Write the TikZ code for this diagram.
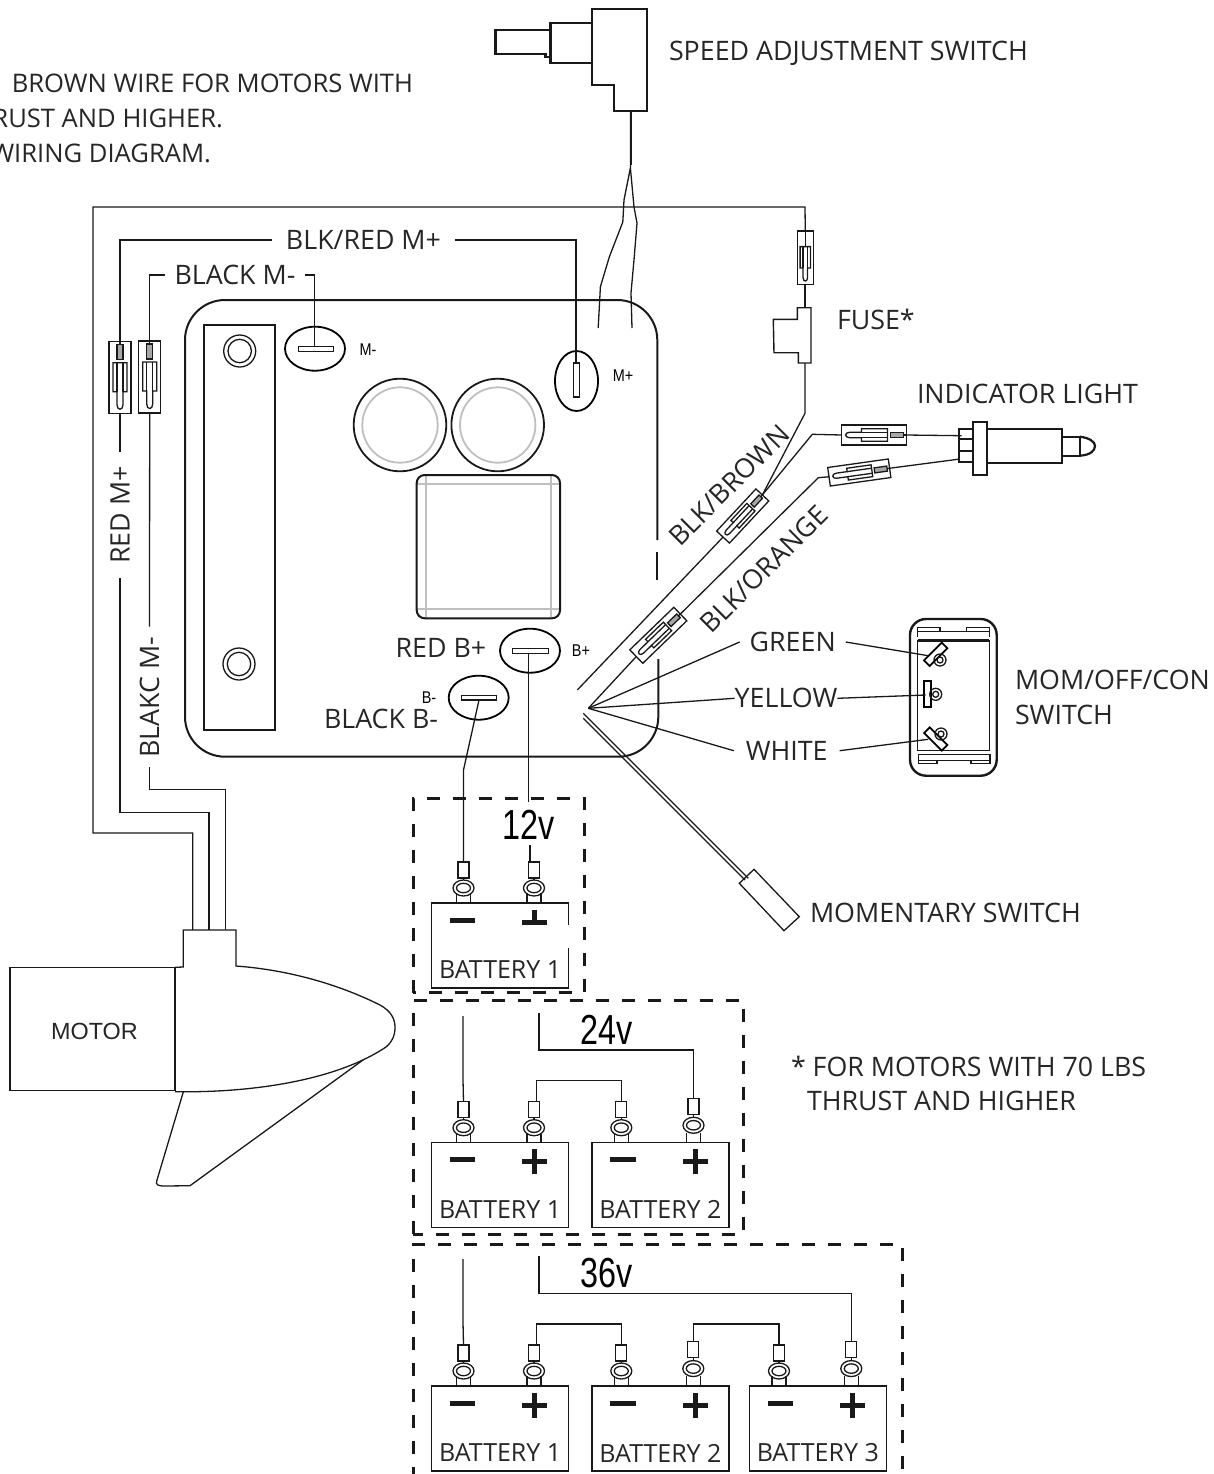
\documentclass[tikz,border=0pt]{standalone}
\usepackage{graphicx}
\usepackage{fontspec}
\setmainfont{Open Sans}
\newfontfamily\narrowfont{Liberation Sans}
\usepackage{tikz}
\newcommand{\voltlabel}[1]{\scalebox{.77}[1]{\fontsize{21}{21}\selectfont\narrowfont #1}}
\newcommand{\smalllabel}[1]{\scalebox{.85}[1]{\fontsize{8.5}{9}\selectfont\narrowfont #1}}
\newcommand{\bladebody}{
\draw[wire,fill=white] (-11,-36) rectangle (11,36);
\draw[wire] (-7,-15) -- (7,-15) -- (7,14) -- (3,14) -- (3,27) .. controls (3,33) and (-3,33) .. (-3,27) -- (-3,14) -- (-7,14) -- cycle;
\draw[wire] (-3,-15) -- (-3,14) (3,-15) -- (3,14);
\coordinate (-a) at (0,-36);
\coordinate (-b) at (0,36);
}
\tikzset{
wire/.style={line width=.65pt,black!90},
heavy/.style={line width=1.1pt,black!90},
pale/.style={line width=.9pt,black!25},
lbl/.style={font=\fontsize{13.4}{15}\selectfont,text=black!85,inner sep=0pt,outer sep=5pt},
txt/.style={lbl,outer sep=0pt},
notetxt/.style={txt,anchor=east,font=\fontsize{12.8}{15}\selectfont},
battlbl/.style={font=\fontsize{12.5}{14}\selectfont,text=black!85,inner sep=0pt},
boxdash/.style={line width=1.5pt,black!90,dash pattern=on 6.5pt off 6.5pt},
pics/blade/.style={code={\bladebody
\draw[wire] (0,-36) -- (0,-18);
\draw[wire,fill=black!35] (-3,-33) rectangle (3,-18);
}},
pics/bladeplain/.style={code={\bladebody
\draw[wire] (0,-36) -- (0,-15);
}},
pics/terminal/.style={code={
\draw[wire] (-5.5,-41-#1) rectangle (5.5,-25-#1);
\draw[wire] (0,-25-#1) -- (0,-22);
\draw[wire,fill=white] (0,-15-.7*#1) ellipse (10.5 and 8);
\draw[wire] (0,-15-.7*#1) ellipse (7 and 4.7);
\draw[wire] (-7,0) -- (-7,-10) (7,-10) -- (7,0);
\coordinate (-top) at (0,-41-#1);
}},
pics/battery/.style={code={
\draw[wire] (0,0) rectangle (137,85);
\fill[black!90] (18.3,14.5) rectangle ++(25.3,5);
\fill[black!90] (90.5,16.5) rectangle ++(25,5);
\fill[black!90] (100.5,6.5) rectangle ++(5,25);
\node[battlbl] (-name) at (68.5,67) {#1};
}},
}

\begin{document}
\begin{tikzpicture}[x=0.5pt,y=-0.5pt]
\useasboundingbox (0,0) rectangle (1214,1474);
%note top left, runs off the page
\node[notetxt] (notea) at (413,83) {BROWN WIRE FOR MOTORS WITH};
\node[notetxt] (noteb) at (223,118) {RUST AND HIGHER.};
\node[notetxt] (notec) at (211,153) {WIRING DIAGRAM.};

%speed switch
\draw[heavy] (592,9) -- (647.3,9) -- (647.3,111) -- (613.8,111) -- (613.8,85) -- (592,85) -- cycle;
\draw[heavy] (592,23.3) -- (550.4,23.3) -- (550.4,63.3) -- (592,63.3);
\draw[heavy] (550.4,30) -- (495.5,30) -- (495.5,53.7) -- (545.5,53.7) -- (545.5,57) -- (550.4,57);
\draw[wire] (630.4,111) -- (630.4,168) -- (624,200) -- (622.8,222) -- (609.4,256.7) -- (600.4,286.7) -- (598.2,328);
\draw[wire] (630.4,168) -- (634,207) -- (637,223) -- (634,260) -- (631,293) -- (632,328);
\draw[wire] (631,111) -- (631,165);
\node[txt,anchor=west] (speedlbl) at (669,53) {SPEED ADJUSTMENT SWITCH};

%control board
\draw[line width=1pt,black!90,rounded corners=20pt] (657.3,540) -- (657.3,300) -- (185,300) -- (185,756.7) -- (658.3,756.7) -- (658.3,659);
\draw[line width=1pt,black!90] (657.3,552) -- (657.3,580);
\draw[line width=1pt,black!90] (204,325) rectangle (275,730);
\draw[wire] (239.7,351) circle (16);
\draw[wire] (239.7,351) circle (11.7);
\draw[wire] (239,664) circle (16);
\draw[wire] (239,664) circle (11.7);
\draw[pale] (400,425) circle (37.7);
\draw[pale] (497.7,425) circle (37.7);
\draw[line width=.9pt,black!90] (400,425) circle (46.3);
\draw[line width=.9pt,black!90] (497.7,425) circle (46.3);
\draw[pale] (425.7,475) -- (425.7,618.3) (551.3,475) -- (551.3,618.3) (416.7,483.7) -- (560,483.7) (416.7,609.3) -- (560,609.3);
\draw[line width=1pt,black!90,rounded corners=4pt] (416.7,475) rectangle (560,618.3);

%terminals on the board
\draw[line width=.9pt] (315,348.7) ellipse (30 and 22);
\draw[wire] (298.3,346.7) rectangle (333.3,351.7);
\draw[line width=.9pt] (576.5,381) ellipse (21.5 and 30);
\draw[wire] (573.5,363) rectangle (579.5,397);
\draw[line width=.9pt] (530,650.7) ellipse (30 and 22);
\draw[wire] (512.7,648.3) rectangle (548.3,653.3);
\draw[line width=.9pt] (478.7,697.7) ellipse (30 and 22);
\draw[wire] (461.7,695.7) rectangle (496.7,700);
\coordinate (mminus) at (314.7,347);
\coordinate (mplus) at (576,363);
\coordinate (bplus) at (528.7,653.3);
\coordinate (bminus) at (479,700);
\node[inner sep=0pt] (mminuslbl) at (368,349.5) {\smalllabel{M-}};
\node[inner sep=0pt] (mpluslbl) at (623,376) {\smalllabel{M+}};
\node[inner sep=0pt] (bpluslbl) at (581,651) {\smalllabel{B+}};
\node[inner sep=0pt] (bminuslbl) at (429,698) {\smalllabel{B-}};
\node[txt] (redb) at (441,648) {RED B+};
\node[txt] (blackb) at (381,719) {BLACK B-};

%motor
\draw[wire] (10,967.3) rectangle (175,1090.7);
\node[inner sep=0pt,font=\fontsize{11.7}{13}\selectfont\narrowfont,text=black!85] (motorlbl) at (94.5,1031) {MOTOR};
\draw[wire] (175,967.3) -- (183.3,967) -- (183.3,930) -- (236,930) -- (236,966) .. controls (290,970) and (340,985) .. (380,1005) .. controls (391,1011) and (395,1019) .. (395,1027) .. controls (395,1036) and (392,1042) .. (386,1047) .. controls (340,1078) and (260,1093) .. (175,1091.7);
\draw[wire] (183.3,1092) -- (157,1180) .. controls (155,1185) and (158,1186) .. (165,1186) -- (190,1185.7) -- (363,1060);
\coordinate (stema) at (192.7,930);
\coordinate (stemb) at (209,930);
\coordinate (stemc) at (225.3,930);

%plug connectors
\pic (conr) at (120,377.7) {blade};
\pic (conb) at (149.7,377) {blade};
\pic[scale=.74] (conf) at (805.3,257.7) {bladeplain};
\pic[rotate=-43,scale=.8] (conbrown) at (742.7,516) {blade};
\pic[rotate=-46,scale=.85] (conorange) at (658.3,635.3) {blade};
\pic[rotate=-90,scale=.9] (conlighta) at (874,435) {blade};
\pic[rotate=-82,scale=.85] (conlightb) at (859.3,472.5) {blade};

%motor leads
\node[lbl,outer sep=7pt] (blkred) at (363.5,240) {BLK/RED M+};
\node[lbl] (blackm) at (235,275) {BLACK M-};
\node[lbl,rotate=90,outer sep=7pt] (redm) at (120,515) {RED M+};
\node[lbl,rotate=90] (blakc) at (149.5,697) {BLAKC M-};
\draw[wire] (stema) |- (93,833) |- (805,207) -- (conf-a);
\draw[wire] (stemb) |- (120,812.5) -- (redm.west);
\draw[wire] (redm.east) -- (conr-b);
\draw[wire] (conr-a) |- (blkred.west);
\draw[wire] (blkred.east) -| (mplus);
\draw[wire] (stemc) |- (149.5,789.3) -- (blakc.west);
\draw[wire] (blakc.east) -- (conb-b);
\draw[wire] (conb-a) |- (blackm.west);
\draw[wire] (blackm.east) -| (mminus);

%fuse
\draw[wire] (805,284) -- (805,307.7);
\draw[line width=.7pt,black!90] (798.3,363) -- (811,363) -- (811,307.7) -- (797.3,307.7) -- (797.3,319.3) -- (773.3,319.3) -- (774,352.7) -- (798.3,352.7) -- cycle;
\node[txt,anchor=west] (fuselbl) at (837,319) {FUSE*};
\draw[wire] (805,363) -- (805,413.3) -- (conbrown-a);

%indicator light
\draw[heavy] (959.3,429) rectangle (973.3,462.3);
\draw[heavy] (959.3,439.3) -- (973.3,439.3) (959.3,450.7) -- (973.3,450.7);
\draw[heavy] (973.3,422.3) rectangle (987.3,474.7);
\draw[heavy] (987.3,429) rectangle (1061.7,462.7);
\draw[heavy] (1061.7,436.7) rectangle (1080,455.7);
\draw[heavy] (1080,436.7) .. controls (1090,438) and (1095,442) .. (1095,446) .. controls (1095,451) and (1090,455) .. (1080,455.7);
\node[txt,anchor=west] (lightlbl) at (917,394) {INDICATOR LIGHT};
\coordinate (lampa) at (961.7,435.7);
\coordinate (lampb) at (960,459);
\draw[wire] (conlighta-a) -- (lampa);
\draw[wire] (conlightb-a) -- (lampb);

%wires to the light
\coordinate (fan) at (588.3,708.3);
\draw[wire] (conbrown-a) -- (812.3,434.3) -- (conlighta-b);
\draw[wire] (577.3,690) -- (conbrown-b);
\draw[wire] (fan) -- (conorange-b);
\draw[wire] (conorange-a) -- (818.3,477.7) -- (conlightb-b);
\node[txt,rotate=45] (brownlbl) at (729,485) {BLK/BROWN};
\node[txt,rotate=45] (orangelbl) at (764,569) {BLK/ORANGE};

%rocker switch
\draw[line width=1.2pt,black!90,rounded corners=8pt] (910,619) rectangle (996.7,775.7);
\draw[wire] (917.7,641) rectangle (989.3,750.7);
\draw[wire] (917.7,637) -- (917.7,627.3) -- (940,627.3) -- (940,631.7) -- (966.7,631.7) -- (966.7,627.3) -- (989.3,627.3) -- (989.3,637);
\draw[wire] (917.7,631.7) -- (989.3,631.7) (917.7,640) -- (989.3,640);
\draw[wire] (918.5,754.3) -- (990,754.3) -- (990,763.3) -- (971,763.3) -- (971,760.7) -- (937,760.7) -- (937,763.3) -- (918.5,763.3) -- cycle;
\draw[wire] (918.5,760.7) -- (990,760.7);
\draw[line width=.9pt,rotate around={45:(935.7,654.3)}] (923.2,650.3) rectangle (948.2,658.3);
\draw[wire] (940,660) circle (6) (940,660) circle (3);
\draw[line width=.9pt] (924,680.7) rectangle (930.7,706.7);
\draw[wire] (935.7,694.3) circle (6) (935.7,694.3) circle (3);
\draw[line width=.9pt,rotate around={-45:(935.7,739)}] (923.2,735) rectangle (948.2,743);
\draw[wire] (941,734) circle (6) (941,734) circle (3);
\node[txt,anchor=west] (momlbl) at (1015,680) {MOM/OFF/CON};
\node[txt,anchor=west] (switchlbl) at (1015,715) {SWITCH};
\coordinate (pingreen) at (928.3,655.7);
\coordinate (pinyellow) at (925.7,695);
\coordinate (pinwhite) at (928.3,739.3);

%colour wires
\node[lbl] (green) at (792.7,642) {GREEN};
\node[txt] (yellow) at (786,698.3) {YELLOW};
\node[lbl,outer sep=6pt] (white) at (786.7,750.7) {WHITE};
\draw[wire] (fan) -- (green.west);
\draw[wire] (fan) -- (yellow.west);
\draw[wire] (fan) -- (white.west);
\draw[wire] (green.east) -- (pingreen);
\draw[wire] (yellow.east) -- (pinyellow);
\draw[wire] (white.east) -- (pinwhite);

%momentary switch
\draw[wire] (583.3,713.3) -- (748.3,878.3);
\draw[wire] (583.3,718.3) -- (745,880);
\draw[wire] (754,869.3) -- (799.3,916.7) -- (784,930.7) -- (739.3,883.3) -- cycle;
\node[txt,anchor=west] (momentlbl) at (810,913) {MOMENTARY SWITCH};

%12v
\draw[boxdash] (413,992.7) -- (413,798.3) -- (584,798.3) -- (584,992.7) -- cycle;
\pic (bata) at (431.7,903) {battery={BATTERY 1}};
\fill[white] (500,924.5) rectangle (572,948);
\pic (taa) at (463.5,903) {terminal=0};
\pic (tab) at (534,903) {terminal=0};
\draw[wire] (bminus) -- (463.5,770) -- (taa-top);
\draw[wire] (bplus) -- (528.7,802);
\draw[wire] (tab-top) ++(-4,0) -- ++(0,-17);
\node[inner sep=0pt] (volta) at (529,825) {\voltlabel{12v}};

%24v
\draw[boxdash] (413,1234) -- (413,1000.7) -- (743.7,1000.7) -- (743.7,1234) -- cycle;
\pic (batb) at (431.7,1142.7) {battery={BATTERY 1}};
\pic (batc) at (592,1142.7) {battery={BATTERY 2}};
\pic (tba) at (463.5,1142.7) {terminal=0};
\pic (tbb) at (534,1142.7) {terminal=0};
\pic (tbc) at (621.3,1142.7) {terminal=0};
\pic (tbd) at (693.5,1142.7) {terminal=3.5};
\draw[wire] (463,1016) -- (463,1080) -- (tba-top);
\draw[wire] (tbb-top) ++(2.5,0) -- ++(0,-21) -| (tbc-top);
\draw[wire] (539,1013) |- (693.5,1050) -- (tbd-top);
\node[inner sep=0pt] (voltb) at (607,1030) {\voltlabel{24v}};

%36v
\draw[boxdash] (413,1480) -- (413,1244.7) -- (902,1244.7) -- (902,1480);
\pic (batd) at (431.7,1386) {battery={BATTERY 1}};
\pic (bate) at (592,1386) {battery={BATTERY 2}};
\pic (batf) at (749.3,1386) {battery={BATTERY 3}};
\pic (tca) at (463.5,1386) {terminal=0};
\pic (tcb) at (534,1386) {terminal=0};
\pic (tcc) at (621.3,1386) {terminal=0};
\pic (tcd) at (693.3,1386) {terminal=3.5};
\pic (tce) at (779,1386) {terminal=0};
\pic (tcf) at (851.3,1386) {terminal=3.5};
\draw[wire] (463,1259) -- (463,1322) -- (tca-top);
\draw[wire] (tcb-top) ++(2.5,0) -- ++(0,-21) -| (tcc-top);
\draw[wire] (tcd-top) -- ++(0,-17.5) -| (tce-top);
\draw[wire] (539,1256) |- (851.3,1293.5) -- (tcf-top);
\node[inner sep=0pt] (voltc) at (607,1273) {\voltlabel{36v}};

%note right
\node[txt,anchor=west] (starlbl) at (791,1066) {* FOR MOTORS WITH 70 LBS};
\node[txt,anchor=west] (thrustlbl) at (807,1101) {THRUST AND HIGHER};
\end{tikzpicture}
\end{document}
